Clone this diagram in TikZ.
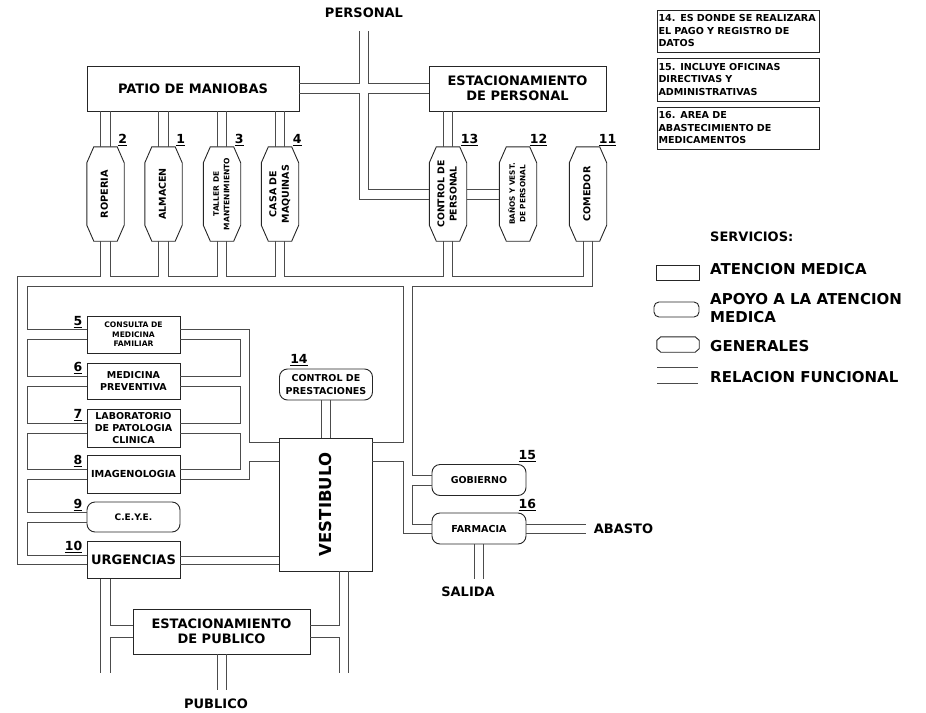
\documentclass[tikz,border=0pt]{standalone}
\usepackage{fontspec}
\setmainfont{DejaVu Sans}
\usetikzlibrary{calc}

% font size / leading, always bold
\newcommand{\fnt}[2]{\fontsize{#1}{#2}\selectfont\bfseries}
\newcommand{\nohyph}{\hyphenpenalty=10000\relax}
% vertical text for the narrow service blocks
\newcommand{\vtext}[1]{\rotatebox{90}{\begin{tabular}{@{}c@{}}#1\end{tabular}}}
% chamfered outline round a named node: node, dx, dy
\newcommand{\chamf}[3]{%
  \draw[box] ([xshift=#2]#1.north west) -- ([xshift=-#2]#1.north east)
    -- ([yshift=-#3]#1.north east) -- ([yshift=#3]#1.south east)
    -- ([xshift=-#2]#1.south east) -- ([xshift=#2]#1.south west)
    -- ([yshift=#3]#1.south west) -- ([yshift=-#3]#1.north west) -- cycle;}
\newcommand{\unum}[1]{\underline{#1}}

\begin{document}
\begin{tikzpicture}[x=1pt, y=-1pt,
    box/.style={draw=black!85, line width=0.9pt},
    aten/.style={box, rectangle, inner sep=0pt, align=center},
    apoyo/.style={box, rounded corners=8pt, inner sep=0pt, align=center},
    gen/.style={rectangle, inner sep=0pt, minimum width=37pt, minimum height=94pt},
    note/.style={box, text width=159pt, inner xsep=1.5pt, inner ysep=0pt,
      align=left, font=\fnt{9.6}{12.5}\nohyph},
    cor/.style={draw=black!70, line width=0.9pt},
    num/.style={inner sep=0pt, font=\fnt{12.5}{14}},
    tag/.style={inner sep=0pt, font=\fnt{13}{15}}]
  \useasboundingbox (0,0) rectangle (926,712);

  % notes
  \node[note, minimum height=42pt] (nt14) at (738,31)
        {14. ES DONDE SE REALIZARA\\EL PAGO Y REGISTRO DE\\DATOS};
  \node[note, minimum height=43pt] (nt15) at (738,79.5)
        {15. INCLUYE OFICINAS\\DIRECTIVAS Y\\ADMINISTRATIVAS};
  \node[note, minimum height=42pt] (nt16) at (738,128)
        {16. AREA DE\\ABASTECIMIENTO DE\\MEDICAMENTOS};

  % top blocks
  \node[aten, minimum width=212pt, minimum height=45pt, font=\fnt{13}{15}] (patio) at (193,88.5) {PATIO DE MANIOBAS};
  \node[aten, minimum width=177pt, minimum height=45pt, font=\fnt{13}{15.5}] (estp) at (517.5,88.5) {ESTACIONAMIENTO\\DE PERSONAL};

  \node[gen, font=\fnt{9.7}{12}] (rop) at (105.5,194) {\vtext{ROPERIA}};
  \node[gen, font=\fnt{9.5}{12}] (alm) at (163.5,194) {\vtext{ALMACEN}};
  \node[gen, font=\fnt{7.5}{10.5}] (tal) at (222,194) {\vtext{TALLER DE\\MANTENIMIENTO}};
  \node[gen, font=\fnt{9.5}{12.5}] (cas) at (280,194) {\vtext{CASA DE\\MAQUINAS}};
  \node[gen, font=\fnt{9.3}{12.3}] (ctl) at (448,194) {\vtext{CONTROL DE\\PERSONAL}};
  \node[gen, font=\fnt{7.3}{10.7}] (ban) at (518,194) {\vtext{BAÑOS Y VEST.\\DE PERSONAL}};
  \node[gen, font=\fnt{9.6}{12}] (com) at (588,194) {\vtext{COMEDOR}};
  \foreach \n in {rop,alm,tal,cas,ctl,ban,com} {\chamf{\n}{7pt}{16pt}}

  \node[num, anchor=south west] (n2) at ([xshift=-6pt,yshift=1pt]rop.north east) {\unum{2}};
  \node[num, anchor=south west] (n1) at ([xshift=-6pt,yshift=1pt]alm.north east) {\unum{1}};
  \node[num, anchor=south west] (n3) at ([xshift=-6pt,yshift=1pt]tal.north east) {\unum{3}};
  \node[num, anchor=south west] (n4) at ([xshift=-6pt,yshift=1pt]cas.north east) {\unum{4}};
  \node[num, anchor=south west] (n13) at ([xshift=-6pt,yshift=1pt]ctl.north east) {\unum{13}};
  \node[num, anchor=south west] (n12) at ([xshift=-7pt,yshift=1pt]ban.north east) {\unum{12}};
  \node[num, anchor=south west] (n11) at ([xshift=-8pt,yshift=1pt]com.north east) {\unum{11}};

  % left column
  \node[aten, minimum width=93pt, minimum height=37pt, font=\fnt{7.6}{9.5}] (cons) at (133.5,334.5) {CONSULTA DE\\MEDICINA\\FAMILIAR};
  \node[aten, minimum width=93pt, minimum height=36pt, font=\fnt{9.5}{11.7}] (mp) at (133.5,381) {MEDICINA\\PREVENTIVA};
  \node[aten, minimum width=93pt, minimum height=38pt, font=\fnt{9.5}{12}] (lab) at (133.5,428) {LABORATORIO\\DE PATOLOGIA\\CLINICA};
  \node[aten, minimum width=93pt, minimum height=38pt, font=\fnt{9.7}{12}] (img) at (133.5,474) {IMAGENOLOGIA};
  \node[apoyo, minimum width=93pt, minimum height=30pt, font=\fnt{9}{10}] (ceye) at (133.5,517) {C.E.Y.E.};
  \node[aten, minimum width=93pt, minimum height=37pt, font=\fnt{13}{15}] (urg) at (133.5,560) {URGENCIAS};

  \node[num, anchor=south east] (n5) at ([xshift=-4pt,yshift=-12pt]cons.north west) {\unum{5}};
  \node[num, anchor=south east] (n6) at ([xshift=-4pt,yshift=-11pt]mp.north west) {\unum{6}};
  \node[num, anchor=south east] (n7) at ([xshift=-4pt,yshift=-12pt]lab.north west) {\unum{7}};
  \node[num, anchor=south east] (n8) at ([xshift=-4pt,yshift=-12pt]img.north west) {\unum{8}};
  \node[num, anchor=south east] (n9) at ([xshift=-4pt,yshift=-9pt]ceye.north west) {\unum{9}};
  \node[num, anchor=south east] (n10) at ([xshift=-4pt,yshift=-12pt]urg.north west) {\unum{10}};

  % centre
  \node[apoyo, minimum width=93pt, minimum height=31pt, font=\fnt{9.5}{12.3}] (cprest) at (326,384.5) {CONTROL DE\\PRESTACIONES};
  \node[num, anchor=south west] (n14) at ([xshift=11pt,yshift=3pt]cprest.north west) {\unum{14}};
  \node[aten, minimum width=93pt, minimum height=133pt, font=\fnt{16.5}{18}] (vest) at (325.5,504.5) {\rotatebox{90}{VESTIBULO}};
  \node[aten, minimum width=177pt, minimum height=45pt, font=\fnt{13}{15.5}] (estpub) at (221.5,631.5) {ESTACIONAMIENTO\\DE PUBLICO};

  \node[apoyo, minimum width=94pt, minimum height=31pt, font=\fnt{9.5}{11}] (gob) at (479,480) {GOBIERNO};
  \node[apoyo, minimum width=94pt, minimum height=31pt, font=\fnt{9.6}{11}] (farm) at (479,528.5) {FARMACIA};
  \node[num, anchor=south west] (n15) at ([xshift=-8pt,yshift=2pt]gob.north east) {\unum{15}};
  \node[num, anchor=south west] (n16) at ([xshift=-8pt,yshift=2pt]farm.north east) {\unum{16}};

  % outside labels
  \node[tag] (lper) at (364,13) {PERSONAL};
  \node[tag] (labasto) at (623.5,529) {ABASTO};
  \node[tag] (lsal) at (468,592) {SALIDA};
  \node[tag] (lpub) at (216,704) {PUBLICO};

  % legend
  \node[anchor=west, inner sep=0pt, font=\fnt{13}{14}] (lserv) at (710,237) {SERVICIOS:};
  \node[box, inner sep=0pt, minimum width=43pt, minimum height=15pt] (kat) at (677.5,272.5) {};
  \node[anchor=west, inner sep=0pt, font=\fnt{15}{18}] (tat) at (710,269) {ATENCION MEDICA};
  \node[box, rounded corners=5pt, inner sep=0pt, minimum width=45pt, minimum height=15pt] (kap) at (676.5,309.5) {};
  \node[anchor=west, inner sep=0pt, align=left, font=\fnt{15}{18}] (tap) at (710,308.5) {APOYO A LA ATENCION\\MEDICA};
  \node[inner sep=0pt, minimum width=42pt, minimum height=15pt] (kge) at (678,344.5) {};
  \chamf{kge}{4pt}{3.5pt}
  \node[anchor=west, inner sep=0pt, font=\fnt{15}{18}] (tge) at (710,346.5) {GENERALES};
  \coordinate (kr) at (677.5,375);
  \foreach \s in {8,-8} \draw[cor] ([xshift=-20.5pt,yshift=\s pt]kr) -- ([xshift=20.5pt,yshift=\s pt]kr);
  \node[anchor=west, inner sep=0pt, font=\fnt{15}{18}] (trf) at (710,377) {RELACION FUNCIONAL};

  % corridors: personal entrance crossing patio -- estacionamiento
  \coordinate (pin) at (364,31);
  \coordinate (x1) at (364,88.5);
  \draw[cor] ([yshift=4.75pt]patio.east) -- ([xshift=-4.5pt,yshift=4.75pt]x1) -- ([xshift=-4.5pt]pin);
  \draw[cor] ([xshift=4.5pt]pin) -- ([xshift=4.5pt,yshift=4.75pt]x1) -- ([yshift=4.75pt]estp.west);
  \draw[cor] ([yshift=-4.75pt]patio.east) -- ([xshift=-4.5pt,yshift=-4.75pt]x1) |- ([yshift=-5pt]ctl.west);
  \draw[cor] ([yshift=-4.75pt]estp.west) -- ([xshift=4.5pt,yshift=-4.75pt]x1) |- ([yshift=5pt]ctl.west);
  \foreach \s in {5,-5} \draw[cor] ([yshift=\s pt]ctl.east) -- ([yshift=\s pt]ban.west);
  \foreach \s in {-4.5,4.5} \draw[cor] ([xshift=\s pt]ctl.north) -- ([xshift=\s pt]ctl.north |- estp.south);
  \foreach \n in {rop,alm,tal,cas}
    \foreach \s in {-4.75,4.75} \draw[cor] ([xshift=\s pt]\n.north) -- ([xshift=\s pt]\n.north |- patio.south);

  % main service corridor
  \coordinate (bl) at (17,276.5);
  \coordinate (bi) at (27,286);
  \coordinate (vc) at (407.5,286);
  \draw[cor] ([xshift=-4.75pt]rop.south) |- (bl) |- ([yshift=-4pt]urg.west);
  \foreach \a/\b in {rop/alm,alm/tal,tal/cas,cas/ctl,ctl/com}
    \draw[cor] ([xshift=4.75pt]\a.south) -- ([xshift=4.75pt]\a.south |- bl) -| ([xshift=-4.75pt]\b.south);
  \draw[cor] ([xshift=4.75pt]com.south) |- ([xshift=4.5pt]vc) |- ([yshift=5pt]gob.west);
  \draw[cor] ([yshift=5pt]cons.west) -| (bi) -- ([xshift=-4.5pt]vc) |- ([yshift=62.5pt]vest.east);
  \draw[cor] ([yshift=43.5pt]vest.east) -- ([xshift=-4.5pt,yshift=43.5pt]vest.east -| vc) |- ([yshift=-4.5pt]farm.west);
  \draw[cor] ([yshift=-5pt]gob.west) -- ([xshift=4.5pt,yshift=-5pt]gob.west -| vc) |- ([yshift=4.5pt]farm.west);

  % left column links
  \foreach \a/\b in {cons/mp,mp/lab,lab/img,img/ceye,ceye/urg}
    \draw[cor] ([yshift=-5pt]\a.west) -- ([yshift=-5pt]\a.west -| bi) |- ([yshift=5pt]\b.west);
  \coordinate (ri) at (240,339);
  \coordinate (ro) at (249,329);
  \foreach \a/\b in {cons/mp,mp/lab,lab/img}
    \draw[cor] ([yshift=-5pt]\a.east) -- ([yshift=-5pt]\a.east -| ri) |- ([yshift=5pt]\b.east);
  \draw[cor] ([yshift=5pt]cons.east) -- ([yshift=5pt]cons.east -| ro) |- ([yshift=62.5pt]vest.west);
  \draw[cor] ([yshift=-5pt]img.east) -- ([yshift=-5pt]img.east -| ro) |- ([yshift=43.5pt]vest.west);
  \foreach \s in {4,-4} \draw[cor] ([yshift=\s pt]urg.east) -- ([yshift=\s pt]urg.east -| vest.west);
  \foreach \s in {-4.5,4.5} \draw[cor] ([xshift=\s pt]cprest.south) -- ([xshift=\s pt]cprest.south |- vest.north);

  % farmacia
  \coordinate (abe) at (586,528.5);
  \coordinate (sae) at (479.5,579);
  \foreach \s in {4.5,-4.5} \draw[cor] ([yshift=\s pt]farm.east) -- ([yshift=\s pt]farm.east -| abe);
  \foreach \s in {-4.5,4.5} \draw[cor] ([xshift=\s pt]farm.south) -- ([xshift=\s pt]farm.south |- sae);

  % public entrance
  \coordinate (vb) at (344,673);
  \coordinate (ub) at (105.5,673);
  \coordinate (pue) at (221.5,690);
  \draw[cor] ([xshift=-4.75pt]vb |- vest.south) |- ([yshift=6pt]estpub.east);
  \draw[cor] ([yshift=-6pt]estpub.east) -| ([xshift=-4.75pt]vb);
  \draw[cor] ([xshift=4.75pt]vb |- vest.south) -- ([xshift=4.75pt]vb);
  \draw[cor] ([xshift=-4.75pt]ub |- urg.south) -- ([xshift=-4.75pt]ub);
  \draw[cor] ([xshift=4.75pt]ub |- urg.south) |- ([yshift=6pt]estpub.west);
  \draw[cor] ([yshift=-6pt]estpub.west) -| ([xshift=4.75pt]ub);
  \foreach \s in {-4.5,4.5} \draw[cor] ([xshift=\s pt]estpub.south) -- ([xshift=\s pt]pue);
\end{tikzpicture}
\end{document}
